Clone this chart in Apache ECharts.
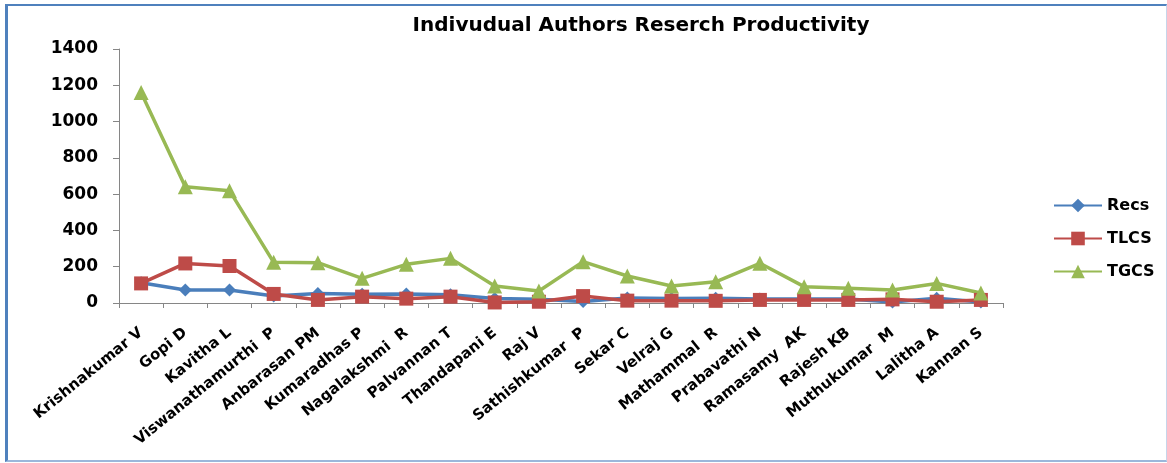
<!DOCTYPE html>
<html>
<head>
<meta charset="utf-8">
<script src="https://cdn.jsdelivr.net/npm/echarts@6/dist/echarts.min.js"></script>
<style>
  html, body { margin: 0; padding: 0; background: #ffffff; }
  #frame { position: absolute; left: 5px; top: 4px; width: 1158px; height: 454px;
           border-left: 3px solid #4f81bd; border-top: 2px solid #4f81bd;
           border-bottom: 2px solid #9bb7db; border-right: 1px solid #c6d5ea; }
  #chart { position: absolute; left: 0; top: 0; width: 1167px; height: 463px; }
</style>
</head>
<body>
<div id="frame"></div>
<div id="chart"></div>
<script>
const categories = ["Krishnakumar V", "Gopi D", "Kavitha L", "Viswanathamurthi  P", "Anbarasan PM",
  "Kumaradhas P", "Nagalakshmi  R", "Palvannan T", "Thandapani E", "Raj V", "Sathishkumar  P",
  "Sekar C", "Velraj G", "Mathammal  R", "Prabavathi N", "Ramasamy  AK", "Rajesh KB",
  "Muthukumar  M", "Lalitha A", "Kannan S"];
const recs = [112, 72, 72, 38, 52, 48, 50, 45, 25, 20, 8, 28, 25, 26, 22, 22, 22, 5, 26, 5];
const tlcs = [108, 218, 204, 50, 17, 35, 24, 35, 3, 7, 38, 13, 13, 12, 17, 17, 17, 20, 7, 17];
const tgcs = [1160, 641, 619, 224, 222, 136, 213, 246, 94, 66, 228, 149, 94, 117, 219, 90, 81, 72, 108, 55];
const yTicks = [0, 200, 400, 600, 800, 1000, 1200, 1400];

const FONT = "DejaVu Sans";
const chart = echarts.init(document.getElementById('chart'), null, { renderer: 'canvas' });
chart.setOption({
  animation: false,
  backgroundColor: 'transparent',
  title: {
    text: 'Indivudual Authors Reserch Productivity',
    left: 636, top: 11, textAlign: 'center',
    textStyle: { fontFamily: FONT, fontWeight: 'bold', fontSize: 20, color: '#000' }
  },
  legend: {
    orient: 'vertical', left: 1048, top: 192, itemGap: 16,
    itemWidth: 48, itemHeight: 17,
    textStyle: { fontFamily: FONT, fontWeight: 'bold', fontSize: 16, color: '#000', lineHeight: 17 },
    data: ['Recs', 'TLCS', 'TGCS']
  },
  grid: { left: 119, right: 164, top: 49, bottom: 160, containLabel: false },
  xAxis: {
    type: 'category', data: categories, boundaryGap: true,
    axisLine: { lineStyle: { color: '#868686', width: 1 } },
    axisTick: { show: true, alignWithLabel: false, length: 5, lineStyle: { color: '#868686' } },
    axisLabel: { rotate: 39, margin: 28, interval: 0, fontFamily: FONT, fontWeight: 'bold', fontSize: 15, color: '#000' },
    splitLine: { show: false }
  },
  yAxis: {
    type: 'value', min: yTicks[0], max: yTicks[yTicks.length - 1], interval: 200,
    axisLine: { show: true, lineStyle: { color: '#868686', width: 1 } },
    axisTick: { show: true, length: 6, inside: false, lineStyle: { color: '#868686' } },
    axisLabel: { margin: 21, fontFamily: FONT, fontWeight: 'bold', fontSize: 17, color: '#000',
      formatter: function (v) { return String(v); } },
    splitLine: { show: false }
  },
  series: [
    { name: 'Recs', type: 'line', data: recs, symbol: 'diamond', symbolSize: 13,
      itemStyle: { color: '#4a7ebb' }, lineStyle: { color: '#4a7ebb', width: 3.5 } },
    { name: 'TLCS', type: 'line', data: tlcs, symbol: 'rect', symbolSize: 14,
      itemStyle: { color: '#be4b48' }, lineStyle: { color: '#be4b48', width: 3.5 } },
    { name: 'TGCS', type: 'line', data: tgcs, symbol: 'triangle', symbolSize: 15,
      itemStyle: { color: '#98b954' }, lineStyle: { color: '#98b954', width: 3.5 } }
  ]
});
</script>
</body>
</html>
